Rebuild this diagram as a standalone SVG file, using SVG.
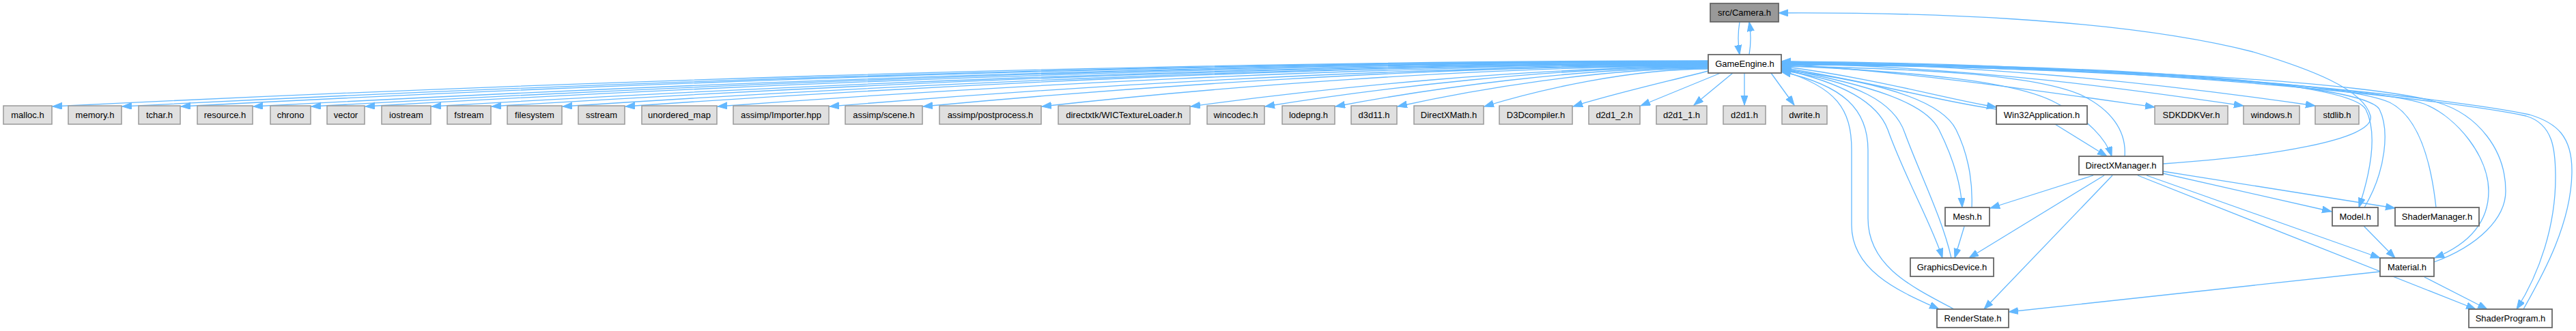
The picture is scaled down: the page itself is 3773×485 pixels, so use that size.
<svg xmlns="http://www.w3.org/2000/svg" width="3773" height="485" viewBox="0 0 3773 485">
<style>
text{font-family:"Liberation Sans",Arial,sans-serif;font-size:13px;text-anchor:middle;fill:#000}
.ext{fill:#e0e0e0;stroke:#999999;stroke-width:1.5}
.int{fill:#ffffff;stroke:#666666;stroke-width:1.8}
.root{fill:#999999;stroke:#666666;stroke-width:1.8}
.e{fill:none;stroke:#63B8FF;stroke-width:1.3;marker-end:url(#ah)}
</style>
<defs>
<marker id="ah" markerWidth="15" markerHeight="11" refX="14" refY="5" orient="auto" markerUnits="userSpaceOnUse"><path d="M0,0 L14,5 L0,10 Z" fill="#63B8FF" stroke="#63B8FF" stroke-width="1"/></marker>
</defs>
<rect width="3773" height="485" fill="#ffffff"/>
<g id="edges">
<path class="e" d="M2548,32 C2545,50 2545,62 2548,80"/>
<path class="e" d="M2562,80 C2565,62 2565,50 2562,32"/>
<path class="e" d="M2502,89 C1653,89 683,126 77,156"/>
<path class="e" d="M2502,90 C1689,90 760,126 179,156"/>
<path class="e" d="M2502,90 C1719,90 824,126 265,156"/>
<path class="e" d="M2502,91 C1756,91 904,127 371,156"/>
<path class="e" d="M2502,91 C1786,91 968,127 456,156"/>
<path class="e" d="M2502,92 C1814,92 1027,127 535,156"/>
<path class="e" d="M2502,93 C1848,93 1100,128 632,156"/>
<path class="e" d="M2502,93 C1878,93 1166,128 720,156"/>
<path class="e" d="M2502,94 C1915,94 1244,128 824,156"/>
<path class="e" d="M2502,94 C1947,94 1313,128 916,156"/>
<path class="e" d="M2502,95 C1994,95 1414,129 1051,156"/>
<path class="e" d="M2502,96 C2052,96 1537,129 1215,156"/>
<path class="e" d="M2502,96 C2100,96 1640,129 1352,156"/>
<path class="e" d="M2502,97 C2160,97 1770,129 1526,156"/>
<path class="e" d="M2502,98 C2237,98 1934,130 1744,156"/>
<path class="e" d="M2502,98 C2275,98 2015,130 1853,156"/>
<path class="e" d="M2502,99 C2311,99 2093,130 1956,156"/>
<path class="e" d="M2502,100 C2343,100 2161,131 2047,156"/>
<path class="e" d="M2502,101 C2387,101 2256,131 2174,156"/>
<path class="e" d="M2502,104 C2440,120 2360,138 2304,156"/>
<path class="e" d="M2520,107 L2403,155"/>
<path class="e" d="M2538,107 L2481,154"/>
<path class="e" d="M2555,107 L2555,154"/>
<path class="e" d="M2594,107 L2628,154"/>
<path class="e" d="M2609,97 C2750,115 2850,145 2924,157"/>
<path class="e" d="M2924,160 C2840,149 2740,119 2609,99"/>
<path class="e" d="M2609,94 C2800,105 3000,135 3156,157"/>
<path class="e" d="M2609,92 C2900,100 3100,128 3286,155"/>
<path class="e" d="M2609,90 C2900,95 3150,120 3391,155"/>
<path class="e" d="M2609,96 C2800,105 2950,118 3010,150 C3060,175 3085,205 3093,229"/>
<path class="e" d="M3112,229 C3115,190 3090,160 3050,140 C2980,108 2800,100 2609,97"/>
<path class="e" d="M3010,182 L3086,229"/>
<path class="e" d="M3168,240 C3320,230 3480,205 3472,170 C3462,130 3380,100 3300,76 C3100,25 2800,18 2605,19"/>
<path class="e" d="M3066,257 L2915,305"/>
<path class="e" d="M3082,257 L2884,378"/>
<path class="e" d="M3094,257 L2906,453"/>
<path class="e" d="M2877,332 L2863,378"/>
<path class="e" d="M3168,254 L3415,310"/>
<path class="e" d="M3168,251 L3508,305"/>
<path class="e" d="M3144,257 L3486,378"/>
<path class="e" d="M3131,257 L3626,453"/>
<path class="e" d="M3462,331 L3508,378"/>
<path class="e" d="M3551,406 L3643,453"/>
<path class="e" d="M3486,398 L2942,457"/>
<path class="e" d="M2609,100 C2740,125 2820,150 2840,190 C2860,230 2872,270 2874,304"/>
<path class="e" d="M2888,304 C2890,260 2880,220 2865,190 C2845,150 2760,120 2609,102"/>
<path class="e" d="M2609,101 C2700,122 2750,150 2765,190 C2790,260 2830,330 2845,378"/>
<path class="e" d="M2858,378 C2845,320 2810,250 2790,195 C2775,150 2720,120 2609,103"/>
<path class="e" d="M2609,103 C2690,128 2712,160 2712,220 L2712,330 C2712,400 2790,430 2840,453"/>
<path class="e" d="M2862,453 C2800,420 2736,390 2736,320 L2736,220 C2736,160 2700,125 2609,105"/>
<path class="e" d="M2609,92 C3100,95 3440,118 3465,160 C3480,190 3476,240 3455,304"/>
<path class="e" d="M3463,304 C3495,250 3500,190 3485,160 C3460,122 3100,96 2609,93"/>
<path class="e" d="M3568,304 C3560,230 3540,170 3500,150 C3430,120 3100,100 2609,94"/>
<path class="e" d="M2609,93 C3100,100 3480,128 3550,152 C3600,172 3645,230 3645,280 C3645,330 3610,360 3566,378"/>
<path class="e" d="M3565,384 C3630,360 3670,320 3670,280 C3670,220 3630,168 3570,150 C3480,122 3100,96 2609,95"/>
<path class="e" d="M2609,91 C3150,95 3600,148 3700,170 C3740,182 3743,220 3743,260 C3743,330 3720,400 3686,453"/>
<path class="e" d="M3696,453 C3720,410 3767,330 3767,250 C3767,200 3745,180 3705,168 C3600,145 3150,93 2609,90"/>
</g>
<g id="camera"><rect class="root" x="2505" y="5" width="100" height="27"/><text x="2555" y="23">src/Camera.h</text></g>
<g id="gameengine"><rect class="int" x="2502" y="80" width="107" height="27"/><text x="2555.5" y="98">GameEngine.h</text></g>
<g id="malloc"><rect class="ext" x="5" y="155" width="71" height="27"/><text x="40.5" y="173">malloc.h</text></g>
<g id="memory"><rect class="ext" x="100" y="155" width="78" height="27"/><text x="139" y="173">memory.h</text></g>
<g id="tchar"><rect class="ext" x="203" y="155" width="61" height="27"/><text x="233.5" y="173">tchar.h</text></g>
<g id="resource"><rect class="ext" x="289" y="155" width="81" height="27"/><text x="329.5" y="173">resource.h</text></g>
<g id="chrono"><rect class="ext" x="396" y="155" width="59" height="27"/><text x="425.5" y="173">chrono</text></g>
<g id="vector"><rect class="ext" x="479" y="155" width="55" height="27"/><text x="506.5" y="173">vector</text></g>
<g id="iostream"><rect class="ext" x="559" y="155" width="72" height="27"/><text x="595" y="173">iostream</text></g>
<g id="fstream"><rect class="ext" x="655" y="155" width="64" height="27"/><text x="687" y="173">fstream</text></g>
<g id="filesystem"><rect class="ext" x="743" y="155" width="80" height="27"/><text x="783" y="173">filesystem</text></g>
<g id="sstream"><rect class="ext" x="847" y="155" width="68" height="27"/><text x="881" y="173">sstream</text></g>
<g id="unordered_map"><rect class="ext" x="940" y="155" width="110" height="27"/><text x="995" y="173">unordered_map</text></g>
<g id="importer"><rect class="ext" x="1074" y="155" width="140" height="27"/><text x="1144" y="173">assimp/Importer.hpp</text></g>
<g id="scene"><rect class="ext" x="1238" y="155" width="113" height="27"/><text x="1294.5" y="173">assimp/scene.h</text></g>
<g id="postprocess"><rect class="ext" x="1376" y="155" width="149" height="27"/><text x="1450.5" y="173">assimp/postprocess.h</text></g>
<g id="wic"><rect class="ext" x="1550" y="155" width="193" height="27"/><text x="1646.5" y="173">directxtk/WICTextureLoader.h</text></g>
<g id="wincodec"><rect class="ext" x="1768" y="155" width="84" height="27"/><text x="1810" y="173">wincodec.h</text></g>
<g id="lodepng"><rect class="ext" x="1878" y="155" width="77" height="27"/><text x="1916.5" y="173">lodepng.h</text></g>
<g id="d3d11"><rect class="ext" x="1979" y="155" width="67" height="27"/><text x="2012.5" y="173">d3d11.h</text></g>
<g id="directxmath"><rect class="ext" x="2071" y="155" width="102" height="27"/><text x="2122" y="173">DirectXMath.h</text></g>
<g id="d3dcompiler"><rect class="ext" x="2196" y="155" width="107" height="27"/><text x="2249.5" y="173">D3Dcompiler.h</text></g>
<g id="d2d1_2"><rect class="ext" x="2327" y="155" width="75" height="27"/><text x="2364.5" y="173">d2d1_2.h</text></g>
<g id="d2d1_1"><rect class="ext" x="2426" y="155" width="74" height="27"/><text x="2463" y="173">d2d1_1.h</text></g>
<g id="d2d1"><rect class="ext" x="2524" y="155" width="62" height="27"/><text x="2555" y="173">d2d1.h</text></g>
<g id="dwrite"><rect class="ext" x="2610" y="155" width="66" height="27"/><text x="2643" y="173">dwrite.h</text></g>
<g id="win32"><rect class="int" x="2924" y="155" width="133" height="27"/><text x="2990.5" y="173">Win32Application.h</text></g>
<g id="sdkddkver"><rect class="ext" x="3156" y="155" width="107" height="27"/><text x="3209.5" y="173">SDKDDKVer.h</text></g>
<g id="windows"><rect class="ext" x="3286" y="155" width="82" height="27"/><text x="3327" y="173">windows.h</text></g>
<g id="stdlib"><rect class="ext" x="3391" y="155" width="64" height="27"/><text x="3423" y="173">stdlib.h</text></g>
<g id="directxmanager"><rect class="int" x="3045" y="229" width="123" height="27"/><text x="3106.5" y="247">DirectXManager.h</text></g>
<g id="mesh"><rect class="int" x="2849" y="304" width="65" height="27"/><text x="2881.5" y="322">Mesh.h</text></g>
<g id="model"><rect class="int" x="3416" y="304" width="67" height="27"/><text x="3449.5" y="322">Model.h</text></g>
<g id="shadermanager"><rect class="int" x="3508" y="304" width="123" height="27"/><text x="3569.5" y="322">ShaderManager.h</text></g>
<g id="graphicsdevice"><rect class="int" x="2798" y="378" width="122" height="27"/><text x="2859" y="396">GraphicsDevice.h</text></g>
<g id="material"><rect class="int" x="3486" y="378" width="79" height="27"/><text x="3525.5" y="396">Material.h</text></g>
<g id="renderstate"><rect class="int" x="2837" y="453" width="105" height="27"/><text x="2889.5" y="471">RenderState.h</text></g>
<g id="shaderprogram"><rect class="int" x="3616" y="453" width="122" height="27"/><text x="3677" y="471">ShaderProgram.h</text></g>
</svg>
